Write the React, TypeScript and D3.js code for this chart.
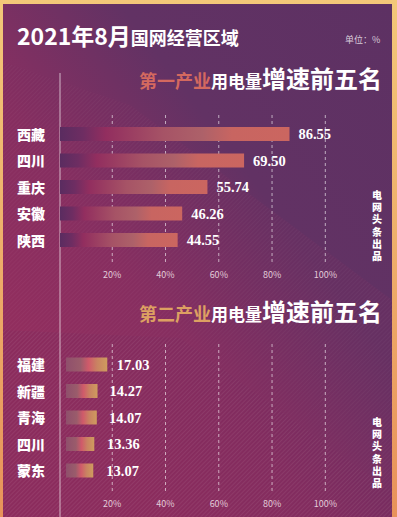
import React from 'react';
import * as d3 from 'd3';

const W = 397;
const H = 517;

// 第一产业
const primaryRegions = ['西藏', '四川', '重庆', '安徽', '陕西'];
const primaryValues = [86.55, 69.5, 55.74, 46.26, 44.55];
// 第二产业
const secondaryRegions = ['福建', '新疆', '青海', '四川', '蒙东'];
const secondaryValues = [17.03, 14.27, 14.07, 13.36, 13.07];
const tickValues = [20, 40, 60, 80, 100];
const watermark = '电网头条出品';

const sans = '"Noto Sans CJK SC", "Noto Sans", sans-serif';
const serif = '"Liberation Serif", "DejaVu Serif", serif';

const x = d3.scaleLinear().domain([0, 100]).range([59, 325.3]);
// the lower bars are drawn a little wider than the axis in the original
const xLow = d3.scaleLinear().domain([0, 100]).range([47, 401]);
const yTop = d3.scalePoint<string>().domain(primaryRegions).range([134, 240]);
const yLow = d3.scalePoint<string>().domain(secondaryRegions).range([364.5, 470.5]);
const fmt = d3.format('.2f');

const BAR_H = 14;

function Grid({ y0, y1, labelY }: { y0: number; y1: number; labelY: number }) {
  return (
    <g>
      {tickValues.map((t) => (
        <g key={t}>
          <line
            x1={x(t)}
            x2={x(t)}
            y1={y0}
            y2={y1}
            stroke="rgba(255,255,255,0.6)"
            strokeWidth={1}
            strokeDasharray="3,3"
          />
          <text
            x={x(t)}
            y={labelY}
            textAnchor="middle"
            fontFamily={sans}
            fontSize={9}
            fill="#e2cbd8"
          >
            {t}%
          </text>
        </g>
      ))}
    </g>
  );
}

// vertical "电网头条出品" as one text run
function Watermark({ x0, y0 }: { x0: number; y0: number }) {
  return (
    <text
      x={x0}
      y={y0}
      fontFamily={sans}
      fontWeight={900}
      fontSize={10}
      fill="#fff"
      letterSpacing={2.3}
      style={{ writingMode: 'vertical-rl' as any }}
    >
      {watermark}
    </text>
  );
}

export default function App() {
  return (
    <svg width={W} height={H} style={{ display: 'block', position: 'absolute', left: 0, top: 0 }}>
      <defs>
        <linearGradient id="frame" x1="0" y1="0" x2="0" y2="1">
          <stop offset="0" stopColor="#f3c879" />
          <stop offset="1" stopColor="#e8925a" />
        </linearGradient>
        <linearGradient id="bg" x1="1" y1="0" x2="0" y2="1">
          <stop offset="0" stopColor="#5d3163" />
          <stop offset="0.35" stopColor="#623264" />
          <stop offset="0.6" stopColor="#8a2f61" />
          <stop offset="0.8" stopColor="#982f5f" />
          <stop offset="1" stopColor="#9a2f5f" />
        </linearGradient>
        <pattern id="hatch" width="3" height="3" patternUnits="userSpaceOnUse" patternTransform="rotate(45)">
          <rect width="3" height="3" fill="rgba(120,40,90,0.25)" />
          <line x1="0" y1="0" x2="0" y2="3" stroke="rgba(255,255,255,0.08)" strokeWidth="1" />
        </pattern>
        <linearGradient id="barTop" x1="0" y1="0" x2="1" y2="0">
          <stop offset="0" stopColor="#5a2c60" />
          <stop offset="0.1" stopColor="#6e2d62" />
          <stop offset="0.2" stopColor="#922e5f" />
          <stop offset="0.45" stopColor="#a65366" />
          <stop offset="0.62" stopColor="#ad6169" />
          <stop offset="0.75" stopColor="#c86561" />
          <stop offset="1" stopColor="#cb6660" />
        </linearGradient>
        <linearGradient id="barLow" x1="0" y1="0" x2="1" y2="0">
          <stop offset="0" stopColor="#8f4f6c" />
          <stop offset="0.35" stopColor="#9a5c6b" />
          <stop offset="0.55" stopColor="#d05a6a" />
          <stop offset="0.75" stopColor="#c98262" />
          <stop offset="1" stopColor="#cf9c5e" />
        </linearGradient>
      </defs>

      {/* frame + background */}
      <rect x={0} y={0} width={W} height={H} fill="url(#frame)" />
      <rect x={3} y={4} width={389} height={H - 4} fill="url(#bg)" />
      <polygon points="3,62 130,105 392,300 392,517 3,517" fill="url(#hatch)" opacity={0.8} />
      <polygon points="3,330 180,338 392,492 392,517 3,517" fill="url(#hatch)" />

      {/* title */}
      <text x={17} y={45} fontFamily={sans} fontWeight={700} fill="#fff">
        <tspan fontSize={23}>2021年8月</tspan>
        <tspan fontSize={18}>国网经营区域</tspan>
      </text>
      <text x={345} y={43} fontFamily={sans} fontSize={9} fill="#d9cbd9">
        单位：%
      </text>

      {/* axis line */}
      <line x1={60} x2={60} y1={73} y2={H} stroke="rgba(255,255,255,0.65)" strokeWidth={1} />

      {/* first section */}
      <text x={382} y={88} textAnchor="end" fontFamily={sans} fontWeight={700}>
        <tspan fontSize={18} fill="#d4695f">第一产业</tspan>
        <tspan fontSize={17} fill="#fff">用电量</tspan>
        <tspan fontSize={24} fill="#fff">增速前五名</tspan>
      </text>
      <Grid y0={115} y1={262} labelY={278} />
      {primaryRegions.map((r, i) => (
        <g key={r}>
          <rect
            x={x(0) + 1}
            y={yTop(r)! - BAR_H / 2}
            width={x(primaryValues[i]) - x(0) - 1}
            height={BAR_H}
            fill="url(#barTop)"
          />
          <text
            x={17}
            y={yTop(r)! + 5.5}
            fontFamily={sans}
            fontWeight={900}
            fontSize={14}
            fill="#fff"
          >
            {r}
          </text>
          <text
            x={x(primaryValues[i]) + 9}
            y={yTop(r)! + 5}
            fontFamily={serif}
            fontWeight={700}
            fontSize={14.5}
            fill="#fff"
          >
            {fmt(primaryValues[i])}
          </text>
        </g>
      ))}
      <Watermark x0={377} y0={190} />

      {/* second section */}
      <text x={382} y={321} textAnchor="end" fontFamily={sans} fontWeight={700}>
        <tspan fontSize={18} fill="#dda062">第二产业</tspan>
        <tspan fontSize={17} fill="#fff">用电量</tspan>
        <tspan fontSize={24} fill="#fff">增速前五名</tspan>
      </text>
      <Grid y0={344} y1={493} labelY={507} />
      {secondaryRegions.map((r, i) => (
        <g key={r + i}>
          <rect
            x={66}
            y={yLow(r)! - BAR_H / 2}
            width={xLow(secondaryValues[i]) - 66}
            height={BAR_H}
            fill="url(#barLow)"
          />
          <text
            x={17}
            y={yLow(r)! + 5.5}
            fontFamily={sans}
            fontWeight={900}
            fontSize={14}
            fill="#fff"
          >
            {r}
          </text>
          <text
            x={x(secondaryValues[i]) + 12.5}
            y={yLow(r)! + 5}
            fontFamily={serif}
            fontWeight={700}
            fontSize={14.5}
            fill="#fff"
          >
            {fmt(secondaryValues[i])}
          </text>
        </g>
      ))}
      <Watermark x0={377} y0={417} />
    </svg>
  );
}
